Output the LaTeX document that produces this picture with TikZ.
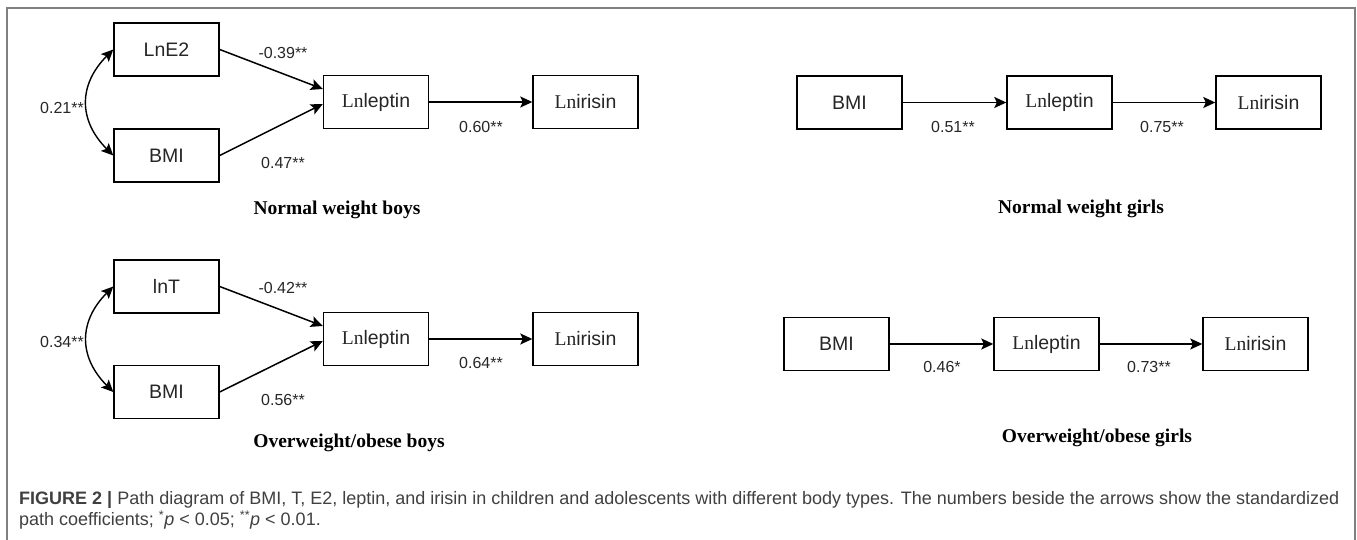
\documentclass[tikz,border=0pt]{standalone}
\usepackage{fontspec}
\setmainfont{Liberation Sans}
\newfontfamily\seriffont{Liberation Serif}
\usetikzlibrary{arrows.meta}

\newcommand{\Ln}{{\seriffont Ln}}

\begin{document}
\begin{tikzpicture}[x=1pt, y=1pt,
        var/.style={draw, line width=1.4pt, minimum width=105pt, minimum height=53pt, inner sep=0pt, font=\fontsize{19.5}{22}\selectfont, text=black!85},
        coef/.style={font=\fontsize{16}{18}\selectfont, text=black!85},
        grouptitle/.style={font=\seriffont\bfseries\fontsize{19.5}{22}\selectfont},
        effect/.style={-{Stealth[length=12pt,width=11pt,inset=2.5pt]}, line width=1.5pt},
        cov/.style={{Stealth[length=12pt,width=11pt,inset=2.5pt]}-{Stealth[length=12pt,width=11pt,inset=2.5pt]}, line width=1.4pt}]
    \useasboundingbox (0,0) rectangle (1357,540);
    \draw[gray, line width=1.5pt] (7,0) -- (7,532) -- (1355,532) -- (1355,0);

    % normal weight boys
    \node[var] (e2b) at (166.5,490.5) {LnE2};
    \node[var] (bmib) at (166.5,384.5) {BMI};
    \node[var] (lepb) at (376,438) {\Ln leptin};
    \node[var] (irib) at (585.5,438) {\Ln irisin};
    \draw[effect] (e2b.east) -- ([yshift=13pt]lepb.west);
    \draw[effect] (bmib.east) -- ([yshift=-2pt]lepb.west);
    \draw[effect] (lepb) -- (irib);
    \draw[cov] (e2b.west) to[out=225, in=135, looseness=1.2] (bmib.west);
    \node[coef] (c1) at (62,432) {0.21**};
    \node[coef] (c2) at (283,487) {-0.39**};
    \node[coef] (c3) at (283,377) {0.47**};
    \node[coef] (c4) at (481,413) {0.60**};
    \node[grouptitle] (t1) at (337,330) {Normal weight boys};

    % overweight/obese boys
    \node[var] (tb) at (166.5,253.5) {lnT};
    \node[var] (bmio) at (166.5,148) {BMI};
    \node[var] (lepo) at (376,201) {\Ln leptin};
    \node[var] (irio) at (585.5,201) {\Ln irisin};
    \draw[effect] (tb.east) -- ([yshift=13pt]lepo.west);
    \draw[effect] (bmio.east) -- ([yshift=-2pt]lepo.west);
    \draw[effect] (lepo) -- (irio);
    \draw[cov] (tb.west) to[out=225, in=135, looseness=1.2] (bmio.west);
    \node[coef] (c5) at (62,198) {0.34**};
    \node[coef] (c6) at (283,252) {-0.42**};
    \node[coef] (c7) at (283,140) {0.56**};
    \node[coef] (c8) at (481,177) {0.64**};
    \node[grouptitle] (t2) at (349,97) {Overweight/obese boys};

    % normal weight girls
    \node[var] (bmig) at (849.5,437.5) {BMI};
    \node[var] (lepg) at (1059.5,437.5) {\Ln leptin};
    \node[var] (irig) at (1268.5,437.5) {\Ln irisin};
    \draw[effect] (bmig) -- (lepg);
    \draw[effect] (lepg) -- (irig);
    \node[coef] (c9) at (953,413) {0.51**};
    \node[coef] (c10) at (1162,413) {0.75**};
    \node[grouptitle] (t3) at (1081,331) {Normal weight girls};

    % overweight/obese girls
    \node[var] (bmigo) at (836.5,196) {BMI};
    \node[var] (lepgo) at (1046.5,196) {\Ln leptin};
    \node[var] (irigo) at (1255.5,196) {\Ln irisin};
    \draw[effect] (bmigo) -- (lepgo);
    \draw[effect] (lepgo) -- (irigo);
    \node[coef] (c11) at (942,173) {0.46*};
    \node[coef] (c12) at (1149,173) {0.73**};
    \node[grouptitle] (t4) at (1097,102) {Overweight/obese girls};

    \node[anchor=west, align=left, inner sep=0pt, font=\fontsize{18}{21.5}\selectfont, text=black!75] (caption) at (19,29.5)
        {\textbf{FIGURE 2 |} Path diagram of BMI, T, E2, leptin, and irisin in children and adolescents with different body types. The numbers beside the arrows show the standardized\\
         path coefficients; \textsuperscript{*}\textit{p} < 0.05; \textsuperscript{**}\textit{p} < 0.01.};
\end{tikzpicture}
\end{document}
